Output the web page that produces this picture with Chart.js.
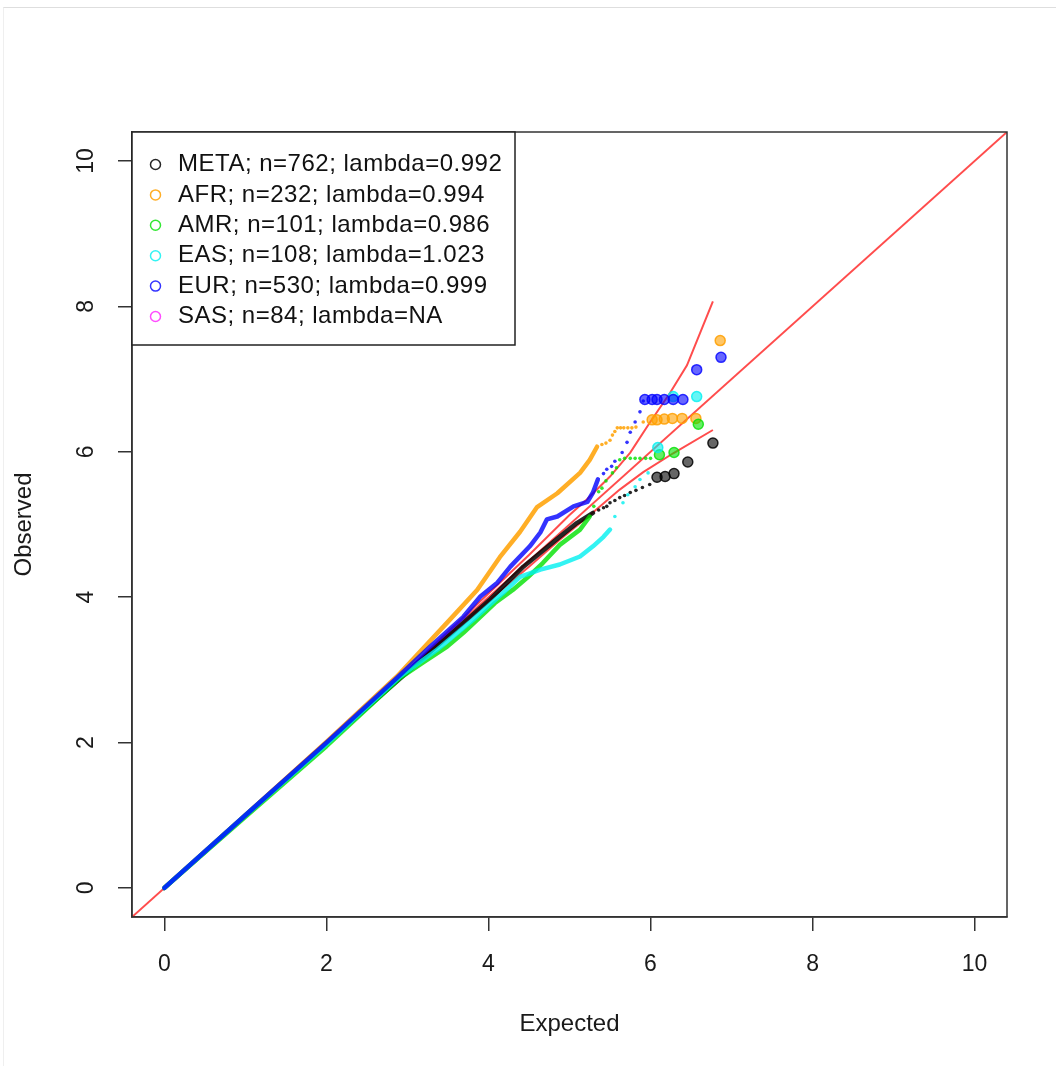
<!DOCTYPE html>
<html>
<head>
<meta charset="utf-8">
<script src="https://cdn.jsdelivr.net/npm/chart.js@4.4.1/dist/chart.umd.min.js"></script>
<style>
  body { margin: 0; background: #fff; }
  #wrap { position: relative; width: 1056px; height: 1066px; }
  #frame { position: absolute; left: 3px; top: 7px; right: 0; bottom: 0; border-top: 1px solid #dedede; border-left: 1px solid #efefef; }
  canvas { position: absolute; left: 0; top: 0; }
</style>
</head>
<body>
<div id="wrap"><div id="frame"></div><canvas id="qq" width="1056" height="1066"></canvas></div>
<script>
// QQ plot of -log10 p, one colour per ancestry group
const groups = ['META', 'AFR', 'AMR', 'EAS', 'EUR', 'SAS'];
const nSnps = [762, 232, 101, 108, 530, 84];
const lambdas = ['0.992', '0.994', '0.986', '1.023', '0.999', 'NA'];
const tickVals = [0, 2, 4, 6, 8, 10];

// [expected, observed]; "line" = dense run, "dots" = sparse tail, "hits" = top hits
const metaLine = [[0,0],[1,1],[2,1.99],[3,2.97],[3.5,3.46],[4.02,3.97],[4.23,4.2],[4.43,4.42],[4.64,4.61],[4.88,4.83],[5.09,5.02],[5.29,5.16]];
const metaDots = [[5.36,5.2],[5.42,5.23],[5.46,5.25],[5.5,5.3],[5.56,5.33],[5.62,5.37],[5.68,5.4],[5.75,5.44],[5.82,5.47],[5.9,5.51],[5.99,5.55]];
const metaHits = [[6.08,5.65],[6.18,5.66],[6.29,5.7],[6.46,5.86],[6.77,6.12]];

const afrLine = [[0,0],[1,1],[2,2.01],[2.87,2.91],[3.49,3.65],[3.86,4.1],[4.14,4.55],[4.39,4.9],[4.6,5.24],[4.85,5.43],[5.13,5.71],[5.25,5.89],[5.34,6.07]];
const afrDots = [[5.4,6.1],[5.45,6.12],[5.5,6.16],[5.53,6.23],[5.56,6.28],[5.59,6.33],[5.63,6.33],[5.67,6.33],[5.72,6.33],[5.77,6.33],[5.82,6.34],[5.91,6.41]];
const afrHits = [[6.02,6.44],[6.08,6.44],[6.17,6.45],[6.27,6.46],[6.39,6.46],[6.56,6.46],[6.86,7.53]];

const amrLine = [[0,0],[1,0.98],[2,1.95],[2.91,2.89],[3.19,3.1],[3.49,3.32],[3.69,3.51],[3.9,3.73],[4.08,3.92],[4.3,4.1],[4.48,4.27],[4.67,4.47],[4.88,4.72],[5.13,4.93],[5.25,5.11]];
const amrDots = [[5.3,5.25],[5.36,5.45],[5.4,5.5],[5.45,5.6],[5.53,5.71],[5.58,5.78],[5.62,5.89],[5.68,5.91],[5.75,5.91],[5.81,5.91],[5.87,5.91],[5.94,5.91],[6.0,5.91]];
const amrHits = [[6.11,5.96],[6.29,5.99],[6.59,6.38]];

const easLine = [[0,0],[1,1],[2,1.98],[2.91,2.91],[3.37,3.28],[3.81,3.69],[4.18,4.06],[4.39,4.28],[4.64,4.38],[4.88,4.45],[5.13,4.56],[5.29,4.7],[5.42,4.83],[5.5,4.93]];
const easDots = [[5.56,5.11],[5.66,5.3],[5.72,5.41],[5.81,5.52],[5.87,5.62],[5.97,5.71]];
const easHits = [[6.09,6.06],[6.28,6.76],[6.57,6.76]];

const eurLine = [[0,0],[1,1],[2,2],[2.87,2.89],[3.28,3.32],[3.69,3.73],[3.9,4.01],[4.11,4.2],[4.27,4.42],[4.51,4.7],[4.64,4.89],[4.72,5.07],[4.85,5.11],[5.05,5.25],[5.22,5.31],[5.29,5.44],[5.35,5.62]];
const eurDots = [[5.42,5.7],[5.46,5.76],[5.52,5.8],[5.56,5.87],[5.65,5.99],[5.71,6.13],[5.75,6.27],[5.81,6.41],[5.87,6.55],[5.91,6.7]];
const eurHits = [[5.93,6.72],[6.02,6.72],[6.08,6.72],[6.17,6.72],[6.28,6.72],[6.4,6.72],[6.57,7.13],[6.87,7.3]];

const diagLine = [[-0.4,-0.4],[10.4,10.4]];
const upperBand = [[0,0],[3,3],[4,4.05],[4.5,4.58],[5,5.13],[5.22,5.35],[5.5,5.66],[5.75,5.99],[5.99,6.4],[6.24,6.81],[6.45,7.19],[6.77,8.07]];
const lowerBand = [[0,0],[3,2.98],[4,3.95],[4.5,4.42],[4.88,4.79],[5.22,5.1],[5.62,5.48],[5.91,5.72],[6.28,5.98],[6.77,6.3]];

const colors = ['rgba(0,0,0,0.85)', 'rgba(255,160,0,0.85)', 'rgba(0,225,0,0.8)', 'rgba(0,240,240,0.8)', 'rgba(0,0,255,0.8)', 'rgba(255,0,255,0.7)'];
const fills = ['rgba(0,0,0,0.6)', 'rgba(255,160,0,0.6)', 'rgba(0,225,0,0.6)', 'rgba(0,240,240,0.6)', 'rgba(0,0,255,0.6)', 'rgba(255,0,255,0.6)'];
const fontFamily = '"Liberation Sans", Arial, sans-serif';

function pts(a) {
  return a.map(p => ({ x: p[0], y: p[1] }));
}

function groupSets(line, dots, hits, i, order) {
  return [
    { data: pts(line), showLine: true, borderColor: colors[i], borderWidth: 4.5, pointRadius: 0,
      borderCapStyle: 'round', borderJoinStyle: 'round', order: order },
    { data: pts(dots), pointRadius: 1.8, backgroundColor: colors[i], borderWidth: 0, order: order },
    { data: pts(hits), pointRadius: 5, backgroundColor: fills[i], borderColor: colors[i], borderWidth: 1.5, order: order }
  ];
}

// reference line and band go underneath the points
function redLine(a) {
  return { data: pts(a), showLine: true, borderColor: 'rgba(255,0,0,0.7)', borderWidth: 2, pointRadius: 0, order: 10 };
}

// box round the plot region, like R's box()
const plotFrame = {
  id: 'plotFrame',
  afterDatasetsDraw(chart) {
    const { ctx, chartArea: a } = chart;
    ctx.save();
    ctx.strokeStyle = '#333';
    ctx.lineWidth = 1.5;
    ctx.strokeRect(a.left, a.top, a.right - a.left, a.bottom - a.top);
    ctx.restore();
  }
};

// top-left legend with open circles
const legendBox = {
  id: 'legendBox',
  afterDraw(chart) {
    const { ctx, chartArea: a } = chart;
    ctx.save();
    ctx.fillStyle = '#fff';
    ctx.fillRect(a.left, a.top, 383, 213);
    ctx.strokeStyle = '#222';
    ctx.lineWidth = 1.5;
    ctx.strokeRect(a.left, a.top, 383, 213);
    ctx.font = '24px ' + fontFamily;
    ctx.textBaseline = 'middle';
    ctx.letterSpacing = '0.5px';
    groups.forEach((g, i) => {
      const y = a.top + 32.5 + i * 30.4;
      ctx.beginPath();
      ctx.arc(a.left + 23.5, y, 5, 0, 2 * Math.PI);
      ctx.strokeStyle = colors[i];
      ctx.lineWidth = 1.5;
      ctx.stroke();
      ctx.fillStyle = '#111';
      ctx.fillText(g + '; n=' + nSnps[i] + '; lambda=' + lambdas[i], a.left + 46, y);
    });
    ctx.restore();
  }
};

const datasets = [
  redLine(diagLine), redLine(upperBand), redLine(lowerBand),
  ...groupSets(eurLine, eurDots, eurHits, 4, 1),
  ...groupSets(easLine, easDots, easHits, 3, 2),
  ...groupSets(amrLine, amrDots, amrHits, 2, 3),
  ...groupSets(afrLine, afrDots, afrHits, 1, 4),
  ...groupSets(metaLine, metaDots, metaHits, 0, 5)
];

const axisGrid = { drawOnChartArea: false, drawTicks: true, tickLength: 14, tickColor: '#333', lineWidth: 1.5, tickWidth: 1.5 };

new Chart(document.getElementById('qq'), {
  type: 'scatter',
  data: { datasets: datasets },
  plugins: [plotFrame, legendBox],
  options: {
    responsive: false,
    animation: false,
    layout: { padding: { left: 0, top: 132, right: 49, bottom: 0 } },
    plugins: { legend: { display: false }, tooltip: { enabled: false } },
    scales: {
      x: {
        type: 'linear', min: -0.4, max: 10.4,
        afterBuildTicks: s => { s.ticks = tickVals.map(v => ({ value: v })); },
        afterFit: s => { s.height = 149; },
        grid: axisGrid,
        border: { display: true, color: '#333', width: 1.5 },
        ticks: { font: { family: fontFamily, size: 23 }, color: '#1a1a1a', padding: 19.7, minRotation: 0, maxRotation: 0, callback: v => String(v) },
        title: { display: true, text: 'Expected', color: '#1a1a1a', font: { family: fontFamily, size: 24 }, padding: { top: 0, bottom: 27 } }
      },
      y: {
        type: 'linear', min: -0.4, max: 10.4,
        afterBuildTicks: s => { s.ticks = tickVals.map(v => ({ value: v })); },
        afterFit: s => { s.width = 132; },
        grid: axisGrid,
        border: { display: true, color: '#333', width: 1.5 },
        ticks: { font: { family: fontFamily, size: 23 }, color: '#1a1a1a', padding: 18.2, minRotation: 90, maxRotation: 90, crossAlign: 'center', callback: v => String(v) },
        title: { display: true, text: 'Observed', color: '#1a1a1a', font: { family: fontFamily, size: 24 }, padding: { top: 10.2, bottom: 0 } }
      }
    }
  }
});
</script>
</body>
</html>
